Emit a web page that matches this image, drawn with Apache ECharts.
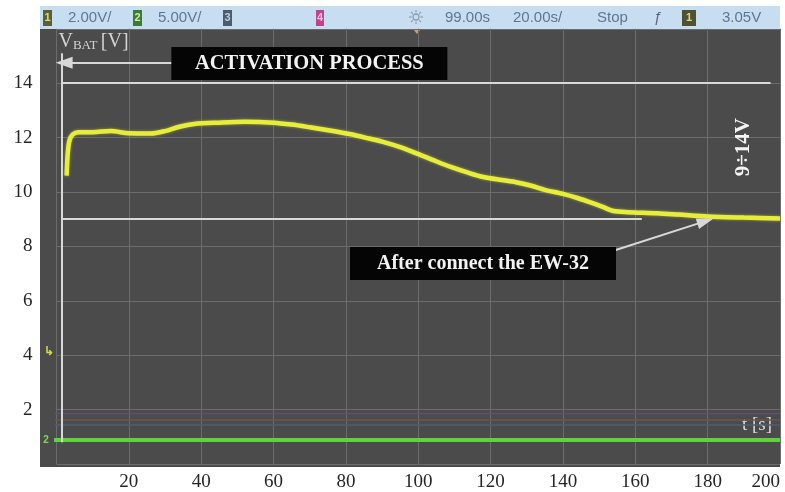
<!DOCTYPE html>
<html>
<head>
<meta charset="utf-8">
<script src="https://cdn.jsdelivr.net/npm/echarts@6/dist/echarts.min.js"></script>
<style>
  html, body { margin: 0; padding: 0; background: #ffffff; }
  #chart { width: 785px; height: 492px; }
</style>
</head>
<body>
<div id="chart"></div>
<script>
// Time axis (seconds) and voltage axis (volts)
const timeRange = [0, 200];
const timeStep = 20;
const voltRange = [0, 16];
const voltStep = 2;
const timeTickLabels = ['', '20', '40', '60', '80', '100', '120', '140', '160', '180', '200'];
const voltTickLabels = ['', '2', '4', '6', '8', '10', '12', '14', ''];

// Channel 1: battery voltage during activation [t (s), V]
const batteryVoltage = [
  [2.8, 10.6], [3.1, 11.4], [3.6, 11.9], [4.5, 12.12], [6, 12.2], [10, 12.2],
  [15, 12.24], [20, 12.16], [26, 12.15], [30, 12.24], [34, 12.4], [38, 12.5],
  [45, 12.55], [52, 12.58], [60, 12.55], [65, 12.48], [70, 12.38], [76, 12.25],
  [81, 12.13], [86, 11.98], [90, 11.85], [95, 11.65], [99, 11.45], [104, 11.18],
  [109, 10.92], [114, 10.7], [118, 10.55], [123, 10.44], [127, 10.36], [131, 10.24],
  [135, 10.08], [140, 9.93], [144, 9.78], [148, 9.6], [151, 9.45], [154, 9.3],
  [158, 9.26], [166, 9.22], [172, 9.17], [180, 9.1], [190, 9.06], [200, 9.03]
];
// Channel 2 and the idle channels 3/4 (flat levels, V)
const channel2Level = 0.88;
const idleChannelLevels = [1.86, 1.62, 1.43];
const idleChannelColors = ['#5e5070', '#6a5648', '#4e5c76'];
const screenLeftTime = -4.5;

// Annotations
const rangeLimits = [9, 14];
const activationTime = 1.5;
const activationSpan = [0.8, 15.1];
const upperLimitEnd = 197.4;
const lowerLimitEnd = 161.8;
const activationArrow = [[31.9, 14.75], [2.1, 14.75]];
const connectArrow = [[154.6, 7.87], [179.4, 8.93]];
const activationLabel = { text: 'ACTIVATION PROCESS', at: [69.9, 14.72] };
const connectLabel = { text: 'After connect the EW-32', at: [117.9, 7.37] };
const rangeLabel = { text: '9÷14V', at: [189.9, 11.65] };

const serif = '"Liberation Serif", "DejaVu Serif", serif';
const sans = '"Liberation Sans", Arial, sans-serif';

const chart = echarts.init(document.getElementById('chart'), null, { renderer: 'canvas' });

const flat = (v) => [[screenLeftTime, v], [timeRange[1], v]];

const whiteLine = { color: '#d8d8d8', width: 2, type: 'solid' };

const series = [];

idleChannelLevels.forEach((lvl, i) => {
  series.push({
    type: 'line', data: flat(lvl), showSymbol: false, clip: false, silent: true,
    lineStyle: { color: idleChannelColors[i], width: 1.5 }, z: 1
  });
});

series.push({
  type: 'line', name: 'CH2', data: flat(channel2Level), showSymbol: false, clip: false,
  lineStyle: { color: '#5fd23c', width: 4 }, z: 3
});

series.push({
  type: 'line', name: 'VBAT', data: batteryVoltage, showSymbol: false, smooth: 0.3,
  lineStyle: { color: '#e6ee3a', width: 4.5, shadowColor: 'rgba(225,235,60,0.55)', shadowBlur: 3 },
  z: 4,
  markLine: {
    silent: true, symbol: 'none', animation: false,
    label: { show: false },
    lineStyle: whiteLine,
    data: [
      [{ coord: [activationTime, rangeLimits[1]] }, { coord: [upperLimitEnd, rangeLimits[1]] }],
      [{ coord: [activationTime, rangeLimits[0]] }, { coord: [lowerLimitEnd, rangeLimits[0]] }],
      [{ coord: [activationTime, activationSpan[0]] }, { coord: [activationTime, activationSpan[1]] }],
      [{ coord: activationArrow[0], symbol: 'none' }, { coord: activationArrow[1], symbol: 'triangle', symbolSize: [12, 17], symbolRotate: 90 }],
      [{ coord: connectArrow[0], symbol: 'none' }, { coord: connectArrow[1], symbol: 'triangle', symbolSize: [11, 17] }]
    ]
  },
  markPoint: {
    silent: true, symbol: 'rect', symbolSize: 0, animation: false,
    data: [
      {
        coord: activationLabel.at, value: activationLabel.text,
        label: {
          show: true, position: 'inside', formatter: activationLabel.text,
          color: '#f2f2f2', fontFamily: serif, fontWeight: 'bold', fontSize: 20.5,
          backgroundColor: '#050505', width: 276, height: 33, lineHeight: 33, align: 'center'
        }
      },
      {
        coord: connectLabel.at, value: connectLabel.text,
        label: {
          show: true, position: 'inside', formatter: connectLabel.text,
          color: '#f2f2f2', fontFamily: serif, fontWeight: 'bold', fontSize: 20,
          backgroundColor: '#050505', width: 266, height: 33, lineHeight: 33, align: 'center'
        }
      },
      {
        coord: rangeLabel.at, value: rangeLabel.text,
        label: {
          show: true, position: 'inside', formatter: rangeLabel.text, rotate: 90,
          color: '#f4f4f4', fontFamily: serif, fontWeight: 'bold', fontSize: 21
        }
      }
    ]
  }
});

const topBarItems = [
  { type: 'box', x: 43, w: 9, fill: '#5b6032', label: '1', color: '#d8d890' },
  { type: 'text', x: 68, text: '2.00V/' },
  { type: 'box', x: 133, w: 9, fill: '#3d7a32', label: '2', color: '#c8f0b0' },
  { type: 'text', x: 158, text: '5.00V/' },
  { type: 'box', x: 223, w: 9, fill: '#4c5c6c', label: '3', color: '#c0d0e0' },
  { type: 'box', x: 316, w: 8, fill: '#c4428a', label: '4', color: '#f0c0e0' },
  { type: 'text', x: 445, text: '99.00s' },
  { type: 'text', x: 513, text: '20.00s/' },
  { type: 'text', x: 597, text: 'Stop' },
  { type: 'text', x: 654, text: 'ƒ', color: '#5a6a7a' },
  { type: 'box', x: 682, w: 14, fill: '#4e5230', label: '1', color: '#d8d890' },
  { type: 'text', x: 722, text: '3.05V' }
];

const graphics = [
  { type: 'rect', z: -100, silent: true, shape: { x: 40, y: 29, width: 740, height: 438 }, style: { fill: '#4b4b4b' } },
  { type: 'rect', z: -100, silent: true, shape: { x: 40, y: 6, width: 740, height: 23 }, style: { fill: '#c7def0' } }
];
topBarItems.forEach((it) => {
  if (it.type === 'box') {
    graphics.push({ type: 'rect', silent: true, shape: { x: it.x, y: 10, width: it.w, height: 16 }, style: { fill: it.fill } });
    graphics.push({ type: 'text', silent: true, x: it.x + it.w / 2, y: 18, style: { text: it.label, fill: it.color, font: 'bold 11px ' + sans, textAlign: 'center', textVerticalAlign: 'middle' } });
  } else {
    graphics.push({ type: 'text', silent: true, x: it.x, y: 18, style: { text: it.text, fill: it.color || '#5f7690', font: '15px ' + sans, textAlign: 'left', textVerticalAlign: 'middle' } });
  }
});
// trigger (sun) icon: small disc with rays
const sunX = 416, sunY = 17;
graphics.push({ type: 'circle', silent: true, shape: { cx: sunX, cy: sunY, r: 3 }, style: { fill: 'none', stroke: '#8fa0b0', lineWidth: 1.3 } });
for (let k = 0; k < 8; k++) {
  const a = k * Math.PI / 4;
  graphics.push({
    type: 'line', silent: true,
    shape: { x1: sunX + Math.cos(a) * 4.5, y1: sunY + Math.sin(a) * 4.5, x2: sunX + Math.cos(a) * 7, y2: sunY + Math.sin(a) * 7 },
    style: { stroke: '#8fa0b0', lineWidth: 1.3 }
  });
}
// trigger position tick under the time readout
graphics.push({ type: 'polygon', silent: true, shape: { points: [[413, 29], [421, 29], [417, 34]] }, style: { fill: '#c8a060' } });
// channel ground markers on the left edge
graphics.push({ type: 'text', silent: true, x: 49, y: 352, style: { text: '↳', fill: '#d6de3a', font: 'bold 12px ' + sans, textAlign: 'center', textVerticalAlign: 'middle' } });
graphics.push({ type: 'text', silent: true, x: 46, y: 440, style: { text: '2', fill: '#7ad85a', font: 'bold 10px ' + sans, textAlign: 'center', textVerticalAlign: 'middle' } });
// time axis title inside the plot
graphics.push({ type: 'text', silent: true, x: 772, y: 425, style: { text: 't [s]', fill: '#dcdcdc', font: '19px ' + serif, textAlign: 'right', textVerticalAlign: 'middle' } });

const option = {
  animation: false,
  backgroundColor: '#ffffff',
  grid: { left: 56.5, right: 5, top: 28.8, bottom: 28, containLabel: false },
  xAxis: {
    type: 'value', min: timeRange[0], max: timeRange[1], interval: timeStep,
    axisLine: { show: false }, axisTick: { show: false },
    splitLine: { show: true, lineStyle: { color: '#6c6c6c', width: 1 } },
    axisLabel: {
      margin: 9, color: '#262626', fontFamily: serif, fontSize: 19,
      alignMaxLabel: 'right',
      formatter: (v) => timeTickLabels[Math.round(v / timeStep)] || ''
    }
  },
  yAxis: {
    type: 'value', min: voltRange[0], max: voltRange[1], interval: voltStep,
    axisLine: { show: false }, axisTick: { show: false },
    splitLine: { show: true, lineStyle: { color: '#6c6c6c', width: 1 } },
    axisLabel: {
      margin: 24, color: '#262626', fontFamily: serif, fontSize: 19,
      formatter: (v) => voltTickLabels[Math.round(v / voltStep)] || ''
    },
    name: '{v|V}{s|BAT} {v|[V]}',
    nameLocation: 'end', nameGap: -2,
    nameTextStyle: {
      align: 'left', verticalAlign: 'top', padding: [0, 0, 0, 2],
      rich: {
        v: { fontFamily: serif, fontSize: 20, color: '#d4d4d4', lineHeight: 22 },
        s: { fontFamily: serif, fontSize: 13, color: '#d4d4d4', lineHeight: 22, padding: [7, 0, 0, 0] }
      }
    }
  },
  graphic: graphics,
  series: series
};

chart.setOption(option);
</script>
</body>
</html>
